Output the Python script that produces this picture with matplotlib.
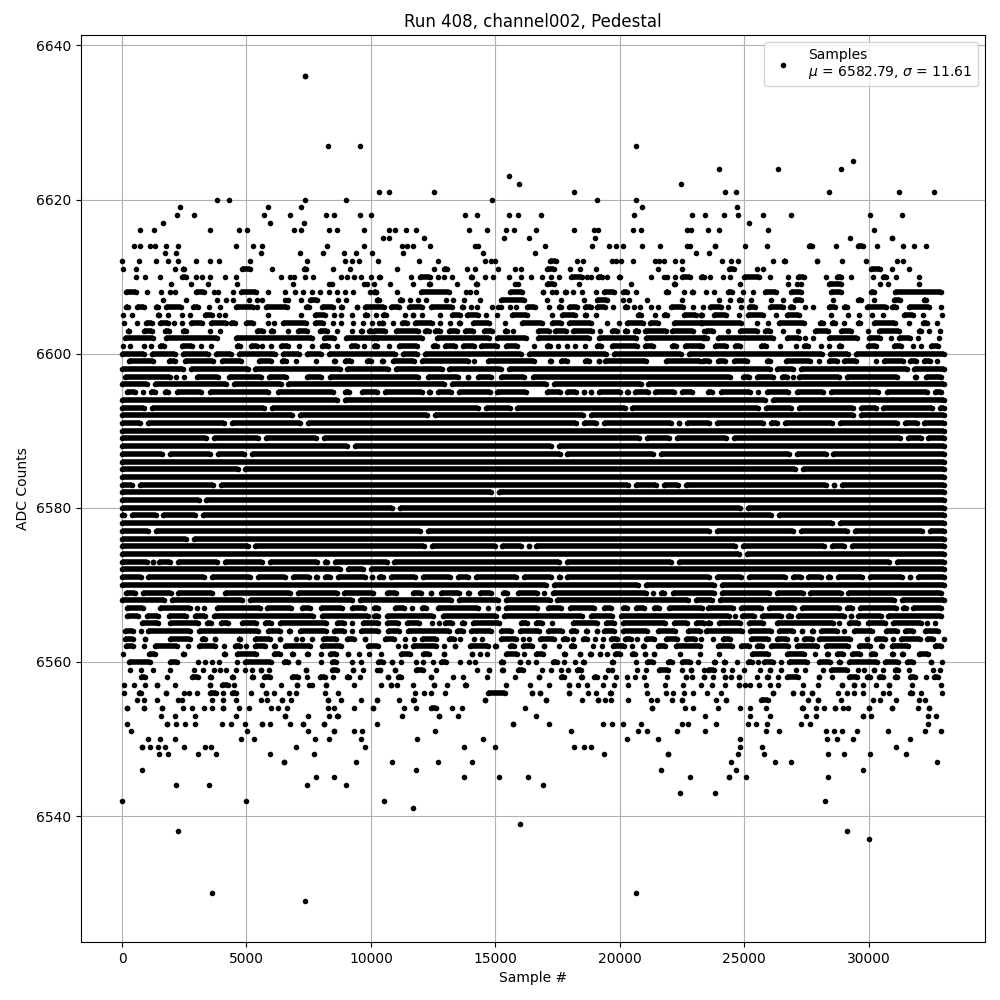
import matplotlib
matplotlib.use("Agg")
import matplotlib.pyplot as plt

# ADC level rows: a plain number is one sample,
# a (start, end) pair is a run of samples too dense to tell apart
upper_levels = [6636, 6627, 6625, 6624, 6623, 6622, 6621, 6620, 6619, 6618, 6617, 6616, 6615,
                6614, 6613, 6612, 6611, 6610, 6609, 6608, 6607, 6606, 6605, 6604, 6603, 6602, 6601]
upper_samples = [
    [7340],
    [8260, 9550, 20650],
    [29370],
    [23990, 26360, 28890],
    [15570],
    [15970, 22470],
    [10320, 10720, 12530, 18180, 24230, 24675, 28405, 31215, 32615],
    [3800, 4290, 7340, 9000, 14850, 19100, 20670],
    [2330, 5860, 7190, 20910, 24715],
    [2200, 2890, 5700, 6740, 8180, 8500, 9580, 10010, 13770, 14250, 15570, 15930, 16820, 20590,
     22910, 23430, 24195, 24755, 25760, 26880, 30050, 31330],
    [1640, 5930, 7300, 25195],
    [720, 1280, 3530, 4700, 5010, 6900, 7190, 8300, 8620, 9740, 10720, 10960, 11400, 11800, 13930,
     14650, 15410, 15770, 16620, 18180, 18980, 19140, 20550, 20870, 22720, 22880, 23550, 23990,
     25960, 30210],
    [10480, 10720, 12120, 15330, 16340, 19020, 29250, (30850, 31010)],
    [480, 720, 1120, 1320, 1760, 2250, 4570, 5250, 5610, 8220, 9740, 11240, 11460, 11680, 12360,
     14170, 14290, 16980, 18900, 19580, 19870, 20150, 20910, 21630, 22720, 22830, (23700, 23930),
     25035, 25920, (27500, 27830), 28690, (29480, 29900), 30330, 31370, 31815, 32295],
    [1720, 2170, 5570, 7140, 8060, 8900, 9420, 10050, 11280, 14490, 16580, 23070, 23590],
    [0, 680, 1360, 1840, 2250, 2970, 3530, 3890, 5130, 7420, 8940, 9260, 9540, 10280, 11920, 12690,
     14570, 14810, 14970, (17090, 17550), 18300, 18540, 19700, 19870, 20070, 20550, 21430, 21590,
     21790, 22230, 22510, 24115, 24475, 24755, 26160, (26510, 26770), (27800, 28050), 28930,
     29890, 31135, 31370],
    [40, 560, 2130, (2320, 2620), (4720, 5260), 6010, (7210, 7510), 8460, 9140, 11040, 12530,
     (12840, 13180), 13850, 14170, 15090, 15810, 16020, (16970, 17470), 18020, 18420, 19060,
     21550, 22510, (24300, 24720), 25515, 25760, (30000, 30580), 30930, 31615],
    [560, 920, 1520, (2280, 2700), 2970, 3210, 3530, 4130, 4570, 6380, 6740, 6900, 7340, 7660,
     8780, 9020, 9340, 9620, 9990, 10310, 10360, 11600, (11870, 12470), 12690, 12930, 13250,
     (13920, 14180), 14570, 14890, 15570, 16020, 16420, 16860, 17220, 17580, (17930, 18590),
     18700, 18860, (19010, 19390), 19500, (19860, 20120), 21270, 21790, 21910, 22230,
     (22380, 22920), (23170, 23480), 23630, 24150, 24435, (24870, 25730), 26040,
     26760, (27070, 27530), 28285, (28640, 29020), 29290, 30170, (30480, 30820), 31090, 32015],
    [1960, 2770, 3450, 4610, 6860, 8300, 8420, 9740, 9860, 10120, 10760, 11680, (12230, 12490),
     13450, (14120, 14380), 15810, 15930, (16970, 17470), 18380, 20470, (22060, 22320), 24835,
     26760, 27120, 27280, (28280, 29020), 30450, 30770, 32015],
    [(40, 680), 1000, 1560, 1920, 2130, (2850, 3410), 3690, 3850, 4450, (4660, 5490), 5850, 6540,
     6940, 7260, 7620, 7940, 8300, 8620, 8940, 9300, 9950, 10190, (10000, 10300), 11040,
     (11910, 13260), 13810, 13970, 14210, (15480, 16190), (16810, 17030), 17260, 17420,
     (17690, 17950), 18140, 18500, 19060, (19250, 19880), (20020, 20400), 20670, (21740, 22050),
     22590, (22780, 23040), 23470, 23790, (24230, 24640), 24955, 25355, (25710, 26410),
     (26790, 27410), (28360, 29020), (30000, 30350), (30960, 33030)],
    [1660, 2580, 3825, 4185, 4466, 5110, 5430, 5630, 6550, 6670, 7190, (7460, 7960), 8680, 9000,
     10240, (10150, 10450), (11070, 11370), 11560, 11880, 12200, 13010, 13290, 13730, 14370,
     (15120, 16270), 17060, 17660, 18580, (18970, 19590), 20150, 20390, 21110, 22510, 23990,
     24435, (24700, 25000), 25280, 26080, 26560, (26950, 27410), 28565, (29480, 29820), 30210,
     (30920, 31380), (32120, 32420)],
    [(50, 340), (490, 980), (1250, 1550), (1650, 2480), (2730, 3150), 3500, 3945, (4450, 5360), 5430,
     (5660, 6760), (7270, 7640), (7910, 8570), (8670, 8970), (9310, 9570), (9670, 10640),
     (10710, 11250), (11430, 12170), (12310, 13380), (13560, 13820), 14010, 14250, 14850, 15090,
     15210, 15610, 15850, (16160, 16710), 17140, (17450, 17750), (17850, 18390), (18490, 18950),
     (18970, 19520), 19750, (20100, 20400), 20590, 20830, 21270, 21550, (21940, 22640), 22960, 23360,
     (23500, 24200), 24355, 24875, (25100, 25530), (25910, 26690), (26750, 27090), 27440, 27765,
     (28280, 28770), (28920, 29260), (29840, 30820), (30840, 31220), (31530, 32550), 32895],
    [50, 415, (1330, 1590), 1860, 2420, 2740, (3210, 3710), 3905, 4145, 5870, 7190, (7630, 8250),
     8520, 8800, 9240, (9670, 9970), 10215, (10390, 10730), 11360, (11590, 11810), 12040, 12770,
     (13160, 13700), (13760, 14420), 14610, 15050, (15560, 16390), 17260, (17570, 18310),
     (18490, 18750), 19060, (20620, 20960), 21430, (21660, 22000), (22460, 23160), 23270,
     (23170, 23400), (23660, 24400), 24795, (25030, 25890), 26280, (26630, 27330), 28485, 29165,
     29610, 30130, 30570, (31320, 31900), 32175, 32940],
    [95, 615, (850, 1310), (1410, 1950), 2100, 2420, (2650, 3310), (3450, 4290), (4250, 4640),
     (4860, 5360), 5870, 6110, (6340, 7500), (7630, 8200), 8480, 8800, 9280, 9680, 10040, 10320,
     (10350, 10610), 10880, (11150, 11570), (11670, 12580), 12770, 13170, (13440, 13700),
     (14000, 14860), 15370, (15970, 16990), (17170, 17750), (17850, 18950), 19470, 19990,
     (20180, 21040), (21100, 21640), (22060, 23400), (23170, 25000), 25515, 25960, (26270, 27530),
     (27920, 28280), (28440, 28770), 29010, (29480, 29780), (30120, 31180), 31615,
     (32090, 32460), 32735],
    [(130, 380), (770, 1310), (1610, 1990), (2330, 2670), 3540, 3945, (5300, 5760), (5860, 6160),
     6670, (6950, 7560), (7830, 8360), 8640, 9240, (9470, 9770), (9830, 10170), (10030, 10690),
     (10910, 12010), (12070, 12450), (12480, 12900), (13040, 13580), (13680, 14220), (14440, 14980),
     (15280, 15580), 15730, (16610, 17270), (17290, 17950), (18010, 18990), 19220, (19570, 20000),
     (20100, 20400), (20500, 20840), (20900, 21960), (21980, 23040), 23400, (23370, 23870), 24355,
     (24710, 25610), (25710, 26140), 26560, 27160, (27720, 28480), (28790, 29420), 29970,
     (30320, 31350), (31930, 32220), 32445, 32870],
    [(10, 1370), (1650, 3920), (4450, 7750), (7990, 8630), (8870, 10370), (9985, 12160),
     (12530, 14850), (14970, 16340), (16620, 18880), (19060, 20750), (20950, 23620),
     (23220, 23550), (23820, 26290), (26630, 27300), 27430, 27765, (28300, 29635), (29900, 30570),
     30905, (31105, 31775), 31975, 32845],
    [50, 335, 900, 1180, (1410, 1790), (2290, 2910), 3185, 3585, (4500, 4870), (5060, 5520), 5630,
     5990, (6260, 6800), 7115, 7635, (7910, 8400), 8640, (9070, 9570), 9720, 10200, (10030, 10370),
     10720, (11030, 11970), (12400, 12780), (12880, 13510), (13600, 14260), (14320, 15180),
     (15320, 15980), 16540, (16970, 17310), 17500, 17900, 18220, 18620, (18970, 19350),
     (19570, 20800), (20900, 21440), (21980, 22360), (22500, 23410), 23220, (23700, 24400),
     (24510, 24940), (25580, 26010), 26430, 27095, (27310, 27680), 28100, 28430, (28720, 29020),
     (29850, 30420), (30920, 31420), 31775, 32110, (32400, 32900)],
]

# rows that are solid from end to end apart from thin white slits
band_levels = [6600, 6598, 6596, 6594, 6593, 6592, 6591, 6590, 6589, 6588, 6587, 6586, 6585, 6584,
               6583, 6582, 6581, 6580, 6579, 6578, 6577, 6576, 6575, 6574, 6573, 6572, 6571, 6570,
               6568]
band_gaps = [
    [1030, 2300, 3600, 4540, 6310, 7280, 8160, 11120, 12020, 16200, 19610, 22620, 28300, 29340],
    [2600, 5200, 8900, 10855, 12995, 15400, 26180, 27130, 31690],
    [1150, 4340, 6530, 13100, 17200, 21000],
    [8800, 26010],
    [1030, 5850, 14465, 15735, 20350, 25725, 27030, 29540, 30440, 32710],
    [7000, 12400, 18700, 29550],
    [895, 4270, 7300, 18410, 19210, 22220, 22550, 23755, 25920, 26480, 28700, 31290, 32090],
    [],
    [3540, 5610, 7950, 20950, 22150, 24440, 31430, 32250],
    [9200, 17400],
    [1780, 3700, 5070, 17740, 21510, 26980, 28430],
    [],
    [4800, 27210],
    [],
    [560, 3800, 20480, 21620, 22490, 28450, 28760],
    [15000],
    [3235],
    [11000, 25000],
    [230, 1500, 3100, 26225],
    [28700],
    [1205, 12125, 23750, 27120, 29300, 32310],
    [2740],
    [5200, 12285, 15130, 16200, 16480, 24795, 28365, 29170],
    [24955],
    [1165, 1325, 2100, 3970, 5780, 7980, 8385, 10785, 17710, 22220, 30970],
    [8920, 9855],
    [900, 3440, 5310, 6710, 7650, 7980, 8520, 9920, 10185, 10655, 11925, 13330, 14060, 16000, 17405,
     17740, 23750, 25025, 26800, 27430, 28230, 28610, 29900, 31510, 31840],
    [17205, 20880, 23950],
    [1835, 4975, 9385, 13395, 15265, 17340, 22890, 23885, 31175],
]

# rows with longer holes, given as runs
run_levels = [6599, 6597, 6595, 6569, 6567, 6566, 6565, 6564, 6563, 6562, 6561, 6560]
run_spans = [
    [(160, 1365), (1765, 2230), (2430, 3770), (3900, 4905), (5375, 6110), (6310, 6710), 7000, 7800,
     (8390, 8650), (8850, 9320), (9720, 10130), (10320, 10585), (10785, 11855), (11925, 14000), 14130,
     (14600, 16670), (17070, 17340), (17540, 18010), (18480, 18880), (19080, 19280), (19280, 21150),
     (21750, 23355), (23220, 23690), (23820, 24355), (24490, 25225), (25825, 26160), (26560, 27765),
     28005, (28300, 28835), (28900, 29610), 30305, (30505, 31505), (31575, 32040), (32110, 32575),
     32735],
    [(0, 2030), 2160, 2500, (2900, 3970), (4170, 5710), (5780, 6710), (7315, 8115), (8250, 12000),
     (12190, 13630), (13800, 13990), (14195, 14930), (15130, 16270), (16400, 24555), (24850, 25290),
     (25425, 26290), (26425, 26830), 26960, (27095, 28940), (29035, 31240), (31775, 32040),
     (32200, 33030)],
    [(95, 630), 830, (1030, 1430), (1630, 1970), (2100, 3300), (3440, 5980), (6140, 8585), (8850, 9250),
     (9520, 10340), (10450, 12150), (12230, 12490), (12570, 13350), (13440, 14890), (14970, 16350),
     (16950, 17700), (17780, 18370), (18450, 18640), (18720, 18970), (19050, 20110), (20190, 20440),
     (20520, 21240), (21320, 22310), (22390, 23000), (23420, 23820), (23950, 25355), 25560,
     (25825, 26895), (27030, 28300), (28365, 30505), (30640, 32445), (32575, 33030)],
    [(40, 650), (740, 2060), (2140, 3730), (4010, 6870), (6950, 8745), (8825, 10200), (10520, 11120),
     (11590, 12125), (12325, 12525), (12725, 13660), (13795, 14060), (14265, 14930), (15200, 15600),
     (15800, 16800), 16950, (17205, 21150), 21350, (21550, 21885), (22020, 23900), (24000, 26120),
     (26200, 27460), (27540, 28990), (29080, 33030)],
    [(70, 960), (1430, 2835), 3000, 3300, (3700, 5645), (5710, 6910), (7115, 7650), (7900, 8950),
     (9120, 9850), (10000, 10400), (10855, 11455), 11660, (11925, 12325), (12590, 14400), 14700,
     15090, (15330, 16805), (17005, 17740), (17875, 19075), (19275, 19745), (20015, 20415),
     (20550, 21085), (21285, 21685), (21885, 23400), (23450, 24650), (24760, 25780), (25870, 27120),
     (27200, 28930), (29010, 29460), (29540, 31200), (31280, 31600), (31680, 33030)],
    [(70, 760), (870, 1560), (1765, 2700), (2835, 3440), (3600, 7780), (7915, 10000), (10000, 10385),
     (10545, 12590), (12790, 15130), (15250, 18600), (18750, 19800), (19950, 24520), 24650, (24800, 25520),
     (25600, 26590), (26670, 26990), (27070, 29130), (29210, 29400), (29470, 30600), (30680, 33030)],
    [(695, 1565), (1830, 3170), (3320, 3700), (3860, 4380), (4710, 5510), (5640, 6100), (6240, 8315),
     (8520, 9050), 9250, (9590, 10385), (10520, 11190), (11320, 12060), 12460, 12730, (12860, 13390),
     (13530, 13860), (14000, 15265), (15935, 16400), (16540, 17000), 17270, (18010, 19210), (19345, 19880),
     (20015, 21950), (22085, 22820), (22955, 23490), (23420, 23750), (23885, 24955), (25065, 25865),
     (26225, 28700), 28805, (29100, 29700), (29860, 30770), (30865, 32240), 32350, 32685],
    [(0, 560), 740, (925, 2835), (2970, 5575), (5770, 6440), (6580, 6850), (7050, 8315), (8410, 9050),
     9250, (9500, 10385), (10585, 11255), (11390, 13260), (13330, 13795), (13930, 14930), (15130, 15735),
     (15870, 16870), (17005, 17805), (17940, 18340), (18540, 18810), (19010, 19145), (19275, 19880),
     (20040, 21215), (21415, 22350), (22620, 23355), (23350, 25025), (25130, 26185), (26290, 27095),
     (27230, 27430), (27600, 27870), (27965, 28835), 29010, (29300, 30235), (30610, 31240), (31350, 31905),
     (32150, 32910)],
    [(0, 560), (800, 1050), (1830, 2830), (3100, 3440), (3640, 3840), (4570, 4840), (5240, 6040), (6240, 6450),
     7000, 7250, 7650, (7980, 8720), (8920, 9450), (9660, 9860), (10450, 11055), 11390, 11725,
     (11925, 12725), (13035, 13435), 13570, 14130, 14465, (15130, 15935), 16110, 16335, (16670, 17470),
     (17605, 18005), 18115, (18410, 18810), 19010, 19345, (19545, 20015), (20120, 20550), 20680,
     (20950, 21485), (21750, 22420), (22550, 23155), 23260, 23750, (24020, 24555), (25155, 26090),
     (26225, 26830), 27095, (27295, 27830), (27900, 29370), (29835, 30035), (30170, 30770), 30975,
     (31175, 32175), (32240, 32710), 33030],
    [(30, 560), 900, (1230, 2300), 2630, (2970, 3840), 4080, (4440, 4840), 4985, (5240, 5840), (5980, 6250),
     (6450, 7650), (7915, 8920), (9790, 10390), 11080, 11390, (11590, 12725), 12925, (13260, 13460),
     (13860, 14800), (14865, 15130), (15465, 15870), (16000, 16605), (16870, 17070), 17540, (17940, 18275),
     18915, 19275, (19610, 20280), 20480, (20815, 21080), (21415, 21950), (22150, 23355), (23820, 24620),
     (24755, 25290), (25425, 25825), (25960, 26895), (27030, 28030), (28190, 29300), (29500, 30170),
     (30370, 30640), (30840, 31710), (32550, 33030)],
    [50, (965, 1430), (2340, 2610), (3970, 4240), (4500, 5510), (5980, 6450), (6710, 6980), (7315, 7580), 8000,
     (8250, 8720), (8980, 9180), 9520, 9920, 10400, (11080, 11680), (11965, 12445), (12845, 13045),
     (13970, 14170), 14370, 14650, (15330, 15975), 16135, (16535, 17020), (17660, 17900), (18300, 18500),
     (18700, 18940), (19145, 19305), 19505, (19705, 20105), (20390, 20710), (20910, 21110), (21310, 21470),
     22430, 23235, 23990, (25225, 26090), (26630, 27500), 27830, (28230, 28500), (28630, 29100),
     (29235, 29770), (29970, 30370), (30840, 31105), (31240, 31480), (31905, 32510)],
    [(160, 1230), (1830, 2300), 3060, 3330, 3600, 3905, 4615, (4840, 6110), (6380, 6790), (6980, 7180), 7980,
     (8315, 8720), 9250, 9590, (10160, 10600), (10760, 10920), 11200, 11800, 12085, 12485,
     (12725, 13125), 13565, 13930, 14170, (15130, 15410), (15935, 16055), 16295, 16655, (17220, 17580), 17780,
     18220, (18420, 18675), (19585, 19825), 20670, (20990, 21430), (21830, 22230), (22390, 22955), 23155,
     (23690, 23950), (24090, 24355), 24715, (25025, 25425), 25560, (25690, 26290), 26490, (26695, 27630),
     (27900, 28565), (28700, 28970), (29100, 30440), (30570, 31305), (31440, 31905), (32380, 32620), 32940],
]

lower_levels = [6559, 6558, 6557, 6556, 6555, 6554, 6553, 6552, 6551, 6550, 6549, 6548, 6547, 6546,
                6545, 6544, 6543, 6542, 6541, 6539, 6538, 6537, 6530, 6529]
lower_samples = [
    [335, 775, 1255, 1940, 2900, 3265, 3705, 3945, 4185, 4585, 4945, 5230, (5510, 5685), 5910,
     (7275, 7515), (8315, 8760), (9190, 9390), 9680, 10255, (10280, 10440), (10920, 11040),
     (11720, 12205), 12605, 14250, (14650, 14810), (15175, 15410), (15815, 16215), 16860, 17220, 17660,
     17940, (18180, 18540), 19545, 19705, 20710, 21070, (21470, 22070), 22510, (22755, 22955), 23395,
     (23420, 23885), 24150, 24515, 25000, 25625, (25960, 26160), 26490, 27095, 27430, 28165,
     (28365, 29235), 29570, 29835, (30100, 30305), 30570, (30970, 31305), 31615, 32575, 32870],
    [(630, 1030), 1820, (2700, 3170), (3440, 3705), (4300, 4570), (5110, 5380), (5575, 6040), (6710, 7180),
     7450, (7850, 8250), 8480, (8920, 9250), 9560, (10640, 10760), (10960, 11320), (12285, 12525),
     13285, 13690, 14650, 15775, (16655, 16860), (17540, 17860), (18340, 18580), (18860, 19185), 19425,
     19865, 20305, 20625, 20990, 21910, (22590, 22710), 22915, (23275, 23485), 23750, (24150, 24290),
     24490, (24690, 24890), 25515, (25825, 26090), 26360, (26630, 27295), (27900, 28100), 28525,
     (29100, 29635), (29835, 30170), (30305, 30705), (30970, 31240), (31575, 31975), 32310, (32535, 32910)],
    [95, 495, 935, (1340, 1500), 2140, (3440, 3640), (3905, 4370), 4500, 5615, 6390, (6910, 7115), 7515, 7650,
     (8115, 8315), 9320, 10400, (10760, 10880), 11040, 11680, (12485, 12605), 13050, (13690, 13930), 15410,
     16375, 17140, (17860, 18060), 18340, 18700, 19345, 19785, 20345, 21070, 21830, 22550, 23275, 23710,
     24220, (24715, 24890), 25025, 25225, 25600, 26025, 26360, 27360, 27965, (28835, 29035), (29370, 29500),
     29770, 30305, (30705, 30945), 31735, 32910],
    [95, (560, 860), (1700, 1805), 2475, 2700, 3020, (3440, 3905), 4040, (4305, 4705), 5190, (5680, 5910), 6110,
     6710, 6980, 8160, 8680, 11760, 12125, 12405, 12965, (14610, 15490), (16375, 16535), (16735, 16860),
     (17900, 18060), 18740, 19060, (19505, 19745), 21110, 21870, 22150, 22590, 22955, 23515, 24085,
     (26090, 26225), (26895, 27030), (27230, 27430), (27630, 27830), 28765, 29125, 29435, 29795, 30570, 30840,
     (31575, 31840), 32110, 32940],
    [615, 895, 1420, 2260, 2420, 3625, 4065, 4585, 5590, 5830, (6350, 6540), 6790, (8200, 8360), 8800, 9600,
     (10190, 10320), 11120, (11600, 11845), (14490, 14690), (16980, 17100), 18500, (19060, 19185), 19425,
     19665, 20345, 21270, 21510, 22110, (22390, 22590), 23860, (24150, 24355), (25560, 26090), 27560,
     (27900, 28030), 28885, 30170, 30450, 31095, 32015, 32255],
    [(175, 255), (815, 935), (1540, 1700), 2460, 2820, 3300, 3625, (3945, 4145), 4705, 5110, 5990, 6270, 6630,
     8275, 8520, 9320, (10040, 10160), 11320, 11800, (12285, 12725), 13245, 13650, 16175,
     (21220, 21390), 22630, 22955, 23955, 24850, 25225, 25880, (27230, 27495), 27885, 28205, (28565, 28765),
     28970, 29170, (29900, 30100), (30840, 31040), 31975, (32375, 32510)],
    [1580, 2140, 2940, 4585, (6470, 6590), 7475, 8315, (8520, 8785), 11240, (12645, 12805), 13490, 16655, 23435,
     25225, 26040, 27480, 27885, (29700, 29860), 30090, 32375, 32695],
    [215, (1700, 1900), 2180, 2540, 2940, 4025, 4385, 4945, (5590, 5670), 5950, 6750, (7195, 7315), (8035, 8155),
     10240, (15650, 15735), 17140, 19345, 19705, 20150, 20870, 22510, 22755, 23870, 25155, 25490, 25920, 27280,
     27645, 32375],
    [375, 5030, 7475, (8480, 8560), 9320, 9640, 18060, 20750, 21110, 22310, 23435, 12565, 25880, 26400,
     28285, 28605, 28925, 29530, 30770, 32255, 32900],
    [1055, 1535, 2140, 4785, 5310, 7755, 8315, 9600, 11845, 14490, 20305, 21550, 24835, 28325, 28725, 29370,
     31655],
    [(735, 855), 1135, 1460, 1740, 2500, 3345, 3585, 6990, 9760, 13730, 14970, 18180, 18580, 18860, 24835, 25720,
     31095],
    [1500, 1860, 3060, 3785, 5950, 7715, 19385, (21870, 22000), 24755, 25800, 28365, 29005, 30050, 31495],
    [(6390, 6590), 9400, 10840, 12685, 14050, 24475, 26225, 26880, 32735],
    [815, 11800, 21670, 24675, 29770],
    [7795, 8520, 13730, 15130, 16295, 22830, (24355, 24450), 25075, 28365],
    [2165, 3490, 7420, 8980, 16900],
    [22430, 23820],
    [0, 4970, 10520, 28270],
    [11680],
    [16000],
    [2245, 29150],
    [30030],
    [3610, 20640],
    [7340],
]

fig = plt.figure(figsize=(10, 10), dpi=100)
ax = fig.add_subplot(111)

row_start = -112
row_end = 33140
slit = 45
dot_r = 112  # half a dot, in samples


def draw_row(level, items):
    dots = [i for i in items if not isinstance(i, tuple)]
    a_ends = []
    b_ends = []
    for i in items:
        if isinstance(i, tuple):
            # runs are read by their outer edge, the end dots sit half a dot inside
            a = i[0] + dot_r
            b = i[1] - dot_r
            if a > b:
                a = b = (i[0] + i[1]) / 2
            a_ends.append(a)
            b_ends.append(b)
            dots += [a, b]
    ax.plot(dots, [level] * len(dots), "k.")
    if a_ends:
        ax.hlines([level] * len(a_ends), a_ends, b_ends, colors="k", linewidth=4.0, zorder=2)


for level, items in zip(upper_levels, upper_samples):
    draw_row(level, items)

for level, gaps in zip(band_levels, band_gaps):
    edges = [row_start] + sorted(gaps) + [row_end]
    runs = []
    for i in range(len(edges) - 1):
        a = edges[i] + (slit if i > 0 else 0)
        b = edges[i + 1] - (slit if i < len(edges) - 2 else 0)
        runs.append((a, b))
    draw_row(level, runs)

for level, items in zip(run_levels, run_spans):
    draw_row(level, items)

for level, items in zip(lower_levels, lower_samples):
    draw_row(level, items)

ax.plot([7340], [6636], "k.", label="Samples\n$\\mu$ = 6582.79, $\\sigma$ = 11.61")

ax.set_title("Run 408, channel002, Pedestal")
ax.set_xlabel("Sample #")
ax.set_ylabel("ADC Counts")
ax.grid(True)
ax.legend(loc="upper right")
fig.subplots_adjust(left=0.081, right=0.985, top=0.965, bottom=0.058)
fig.savefig("out.png")
